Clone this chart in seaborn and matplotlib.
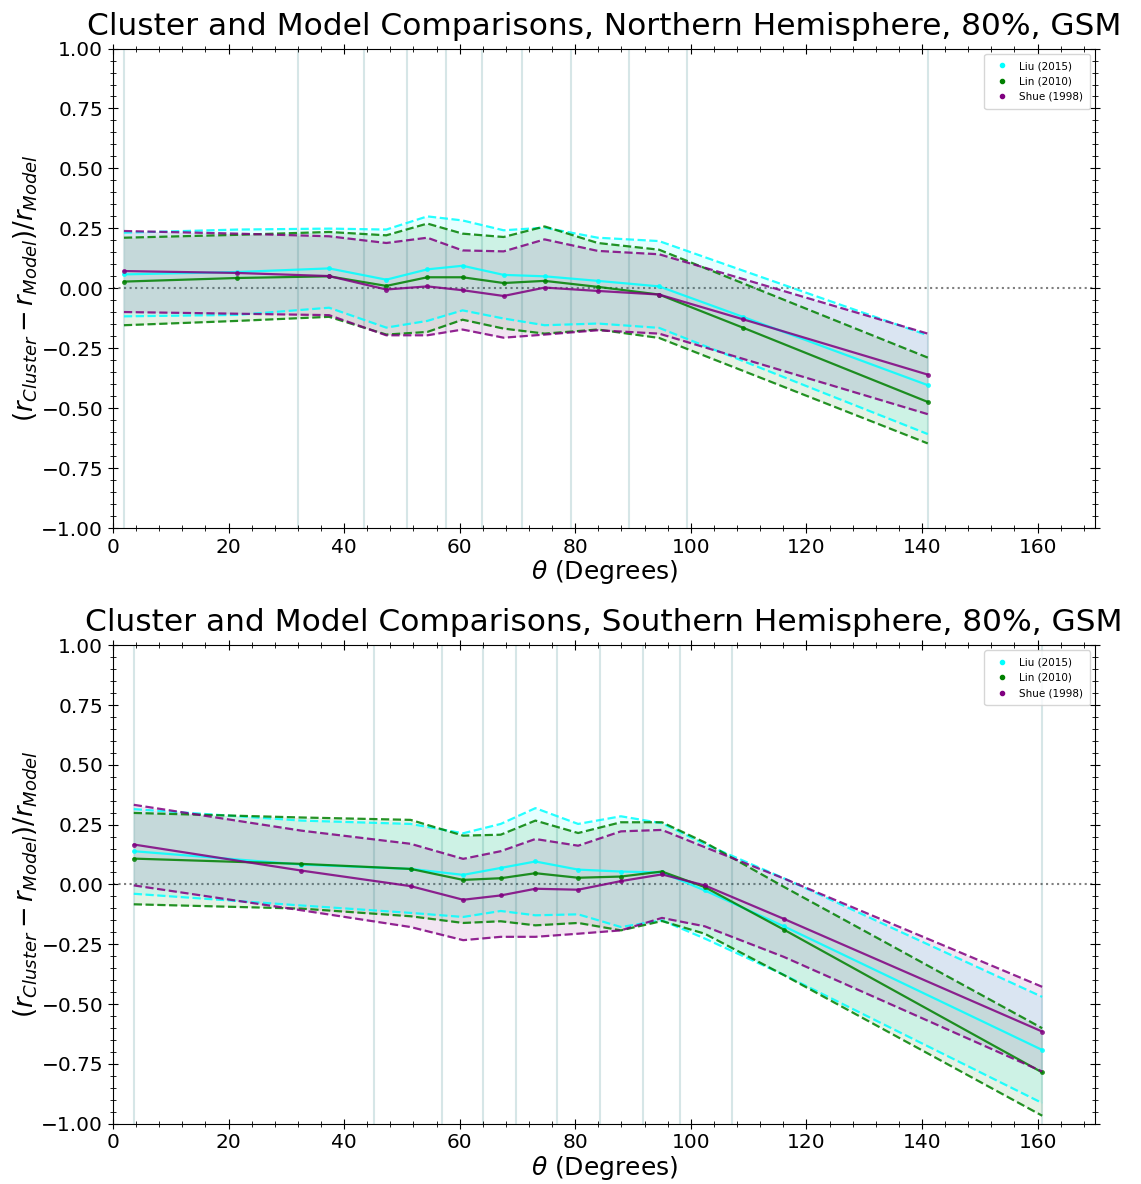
import numpy as np
import pandas as pd
import matplotlib
matplotlib.use("Agg")
import matplotlib.pyplot as plt
from matplotlib.lines import Line2D
from matplotlib.ticker import MultipleLocator
import seaborn as sns

# ---- Northern hemisphere ----
theta_n = [1.9, 21.5, 37.4, 47.3, 54.4, 60.5, 67.6, 74.7, 83.9, 94.5, 109.0, 141.0]
liu_n_mean = [0.058, 0.068, 0.083, 0.036, 0.079, 0.094, 0.056, 0.050, 0.031, 0.008, -0.119, -0.404]
liu_n_hi = [0.232, 0.245, 0.249, 0.245, 0.300, 0.283, 0.242, 0.253, 0.211, 0.197, 0.074, -0.196]
liu_n_lo = [-0.117, -0.111, -0.081, -0.164, -0.136, -0.092, -0.126, -0.154, -0.147, -0.165, -0.303, -0.608]
lin_n_mean = [0.028, 0.043, 0.050, 0.010, 0.046, 0.046, 0.022, 0.031, 0.006, -0.026, -0.164, -0.474]
lin_n_hi = [0.211, 0.223, 0.235, 0.221, 0.270, 0.228, 0.214, 0.258, 0.189, 0.161, 0.021, -0.289]
lin_n_lo = [-0.154, -0.136, -0.119, -0.193, -0.182, -0.131, -0.168, -0.189, -0.172, -0.207, -0.344, -0.647]
shue_n_mean = [0.072, 0.064, 0.051, -0.005, 0.008, -0.008, -0.032, 0.003, -0.011, -0.026, -0.129, -0.360]
shue_n_hi = [0.239, 0.228, 0.217, 0.189, 0.211, 0.158, 0.154, 0.204, 0.156, 0.142, 0.039, -0.189]
shue_n_lo = [-0.099, -0.106, -0.112, -0.196, -0.196, -0.172, -0.206, -0.193, -0.175, -0.189, -0.294, -0.525]
edges_n = [1.9, 32.1, 43.5, 50.9, 57.6, 63.8, 70.8, 79.2, 89.3, 99.3, 141.0]

# ---- Southern hemisphere ----
theta_s = [3.6, 32.6, 51.5, 60.6, 67.1, 73.1, 80.5, 87.9, 95.0, 102.4, 116.1, 160.8]
liu_s_mean = [0.139, 0.083, 0.065, 0.040, 0.069, 0.096, 0.062, 0.054, 0.050, -0.025, -0.175, -0.692]
liu_s_hi = [0.315, 0.267, 0.253, 0.214, 0.253, 0.319, 0.253, 0.285, 0.256, 0.169, 0.026, -0.470]
liu_s_lo = [-0.039, -0.088, -0.119, -0.136, -0.111, -0.129, -0.125, -0.178, -0.150, -0.226, -0.378, -0.914]
lin_s_mean = [0.108, 0.086, 0.065, 0.019, 0.026, 0.047, 0.028, 0.033, 0.054, -0.011, -0.189, -0.786]
lin_s_hi = [0.299, 0.280, 0.270, 0.204, 0.208, 0.267, 0.215, 0.260, 0.260, 0.176, -0.010, -0.601]
lin_s_lo = [-0.083, -0.101, -0.133, -0.161, -0.154, -0.171, -0.161, -0.192, -0.153, -0.206, -0.379, -0.967]
shue_s_mean = [0.167, 0.058, -0.007, -0.064, -0.046, -0.018, -0.022, 0.014, 0.042, -0.004, -0.144, -0.615]
shue_s_hi = [0.333, 0.225, 0.170, 0.107, 0.139, 0.190, 0.162, 0.222, 0.228, 0.156, 0.025, -0.428]
shue_s_lo = [-0.004, -0.108, -0.178, -0.233, -0.219, -0.219, -0.206, -0.192, -0.140, -0.175, -0.303, -0.782]
edges_s = [3.6, 45.1, 57.0, 64.1, 69.8, 76.9, 84.3, 91.7, 98.1, 107.1, 160.8]

models = ["Liu (2015)", "Lin (2010)", "Shue (1998)"]
colors = ["cyan", "green", "purple"]

sns.set_style("ticks")
plt.rcParams.update({
    "xtick.direction": "inout", "ytick.direction": "inout",
    "xtick.top": True, "ytick.right": True,
    "xtick.major.size": 7, "ytick.major.size": 7,
    "xtick.minor.size": 4, "ytick.minor.size": 4,
    "xtick.minor.visible": True, "ytick.minor.visible": True,
    "axes.edgecolor": "black", "text.color": "black",
    "axes.labelcolor": "black", "xtick.color": "black", "ytick.color": "black",
})
plt.rcParams["font.family"] = ["DejaVu Sans"]


def draw_panel(ax, theta, series, edges, title):
    for e in edges:
        ax.axvline(e, color="#5f9ea0", alpha=0.25, lw=1.5, zorder=0)
    ax.axhline(0, color="k", ls=":", lw=1.5, alpha=0.5, zorder=1)
    for name, col, (mean, hi, lo) in zip(models, colors, series):
        df = pd.DataFrame({"theta": theta, "mean": mean, "hi": hi, "lo": lo})
        ax.fill_between(df["theta"], df["lo"], df["hi"], color=col, alpha=0.1, lw=0)
        sns.lineplot(data=df, x="theta", y="mean", ax=ax, color=col, marker=".",
                     markersize=7, markeredgewidth=0, lw=1.6, alpha=0.85)
        sns.lineplot(data=df, x="theta", y="hi", ax=ax, color=col, ls="--", lw=1.6, alpha=0.85)
        sns.lineplot(data=df, x="theta", y="lo", ax=ax, color=col, ls="--", lw=1.6, alpha=0.85)
    ax.set_xlim(0, 170)
    ax.set_ylim(-1, 1)
    ax.xaxis.set_major_locator(MultipleLocator(20))
    ax.xaxis.set_minor_locator(MultipleLocator(4))
    ax.yaxis.set_major_locator(MultipleLocator(0.25))
    ax.yaxis.set_minor_locator(MultipleLocator(0.05))
    ax.tick_params(labelsize=14.5)
    ax.set_xlabel(r"$\theta$ (Degrees)", fontsize=18, labelpad=1)
    ax.set_ylabel(r"$(r_{Cluster} - r_{Model})/r_{Model}$", fontsize=18.5, labelpad=1)
    ax.set_title(title, fontsize=22.5, pad=10)
    handles = [Line2D([], [], ls="none", marker=".", color=c, markersize=6) for c in colors]
    ax.legend(handles, models, loc="upper right", fontsize=7.5, handletextpad=0.6,
              borderpad=0.7, labelspacing=0.5, frameon=True)


fig = plt.figure(figsize=(11.41, 11.84), dpi=100)
ax1 = fig.add_axes([0.099, 0.554, 0.861, 0.405])
ax2 = fig.add_axes([0.099, 0.051, 0.861, 0.404])

draw_panel(ax1, theta_n,
           [(liu_n_mean, liu_n_hi, liu_n_lo), (lin_n_mean, lin_n_hi, lin_n_lo),
            (shue_n_mean, shue_n_hi, shue_n_lo)],
           edges_n, "Cluster and Model Comparisons, Northern Hemisphere, 80%, GSM")
draw_panel(ax2, theta_s,
           [(liu_s_mean, liu_s_hi, liu_s_lo), (lin_s_mean, lin_s_hi, lin_s_lo),
            (shue_s_mean, shue_s_hi, shue_s_lo)],
           edges_s, "Cluster and Model Comparisons, Southern Hemisphere, 80%, GSM")

fig.savefig("out.png", dpi=100)
